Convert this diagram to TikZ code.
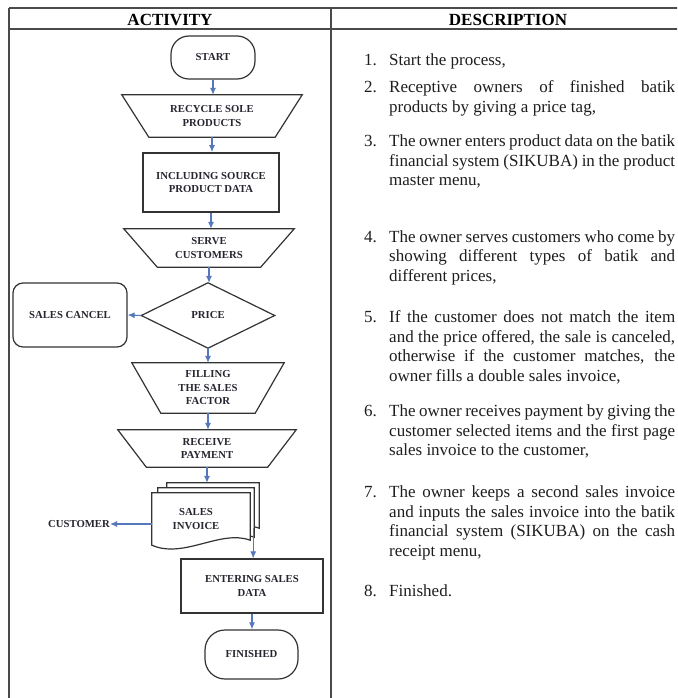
\documentclass[tikz,border=0pt]{standalone}
\usepackage{fontspec}
\setmainfont{Liberation Serif}
\usetikzlibrary{arrows.meta}

\definecolor{rulegray}{HTML}{4A4A4A}
\definecolor{boxline}{HTML}{333333}
\definecolor{flowblue}{HTML}{5577BB}
\definecolor{ink}{HTML}{262630}
\definecolor{bodyink}{HTML}{1E1E1E}

\newcommand\flowfont{\bfseries\fontsize{10.7}{13.5}\selectfont}
\newcommand\bodyfont{\fontsize{17}{19.7}\selectfont}
% a justified line of the description column, and a last (ragged) line
\newcommand\jline[1]{\hbox to 286pt{\spaceskip=0.25em plus 0.6em minus 0.12em #1}}
\newcommand\eline[1]{\hbox{#1}}

\begin{document}
\begin{tikzpicture}[x=1pt,y=-1pt,
  tablerule/.style={draw=rulegray, line width=1.7pt},
  header/.style={anchor=base, inner sep=0, font=\bfseries\fontsize{17}{20}\selectfont, text=black},
  textonly/.style={inner sep=0, align=center, font=\flowfont, text=ink},
  procbox/.style={textonly, draw=boxline, line width=1.2pt, fill=white},
  termbox/.style={procbox, rounded corners=18pt},
  outline/.style={draw=boxline, line width=1.2pt},
  docshape/.style={draw=boxline, line width=1.2pt, fill=white},
  flowarrow/.style={draw=flowblue, line width=1.1pt, -{Latex[length=7pt,width=6pt]}},
  descline/.style={anchor=base west, inner sep=0, font=\bodyfont, text=bodyink},
]
\useasboundingbox (0,0) rectangle (677,698);
\clip (0,0) rectangle (677,698);
\fill[white] (0,0) rectangle (677,698);

% ---- table frame ----
\draw[tablerule] (9,8) -- (700,8);
\draw[tablerule] (9,29) -- (700,29);
\draw[tablerule] (9,8) -- (9,710);
\draw[tablerule] (331,8) -- (331,710);
\node[header] (hact) at (170,25.5) {ACTIVITY};
\node[header] (hdesc) at (508,25.5) {DESCRIPTION};

% ---- flowchart ----
\node[termbox, minimum width=84pt, minimum height=43pt] (start) at (213,57.5) {START};

\node[textonly, minimum width=180pt, minimum height=42pt] (recycle) at (212,116) {RECYCLE SOLE\\PRODUCTS};
\draw[outline] (recycle.north west) -- (recycle.north east) -- ([xshift=-27pt]recycle.south east) -- ([xshift=27pt]recycle.south west) -- cycle;

\node[procbox, line width=1.8pt, minimum width=136pt, minimum height=59pt] (incl) at (211,182.5) {INCLUDING SOURCE\\PRODUCT DATA};

\node[textonly, minimum width=170pt, minimum height=38pt] (serve) at (209,248) {SERVE\\CUSTOMERS};
\draw[outline] (serve.north west) -- (serve.north east) -- ([xshift=-33.5pt]serve.south east) -- ([xshift=33.5pt]serve.south west) -- cycle;

\node[textonly, minimum width=133pt, minimum height=65pt] (price) at (208,315.5) {PRICE};
\draw[outline] (price.north) -- (price.east) -- (price.south) -- (price.west) -- cycle;

\node[termbox, rounded corners=10pt, minimum width=114pt, minimum height=64pt] (cancel) at (70,315) {SALES CANCEL};

\node[textonly, minimum width=152pt, minimum height=50pt] (fill) at (208,388) {FILLING\\THE SALES\\FACTOR};
\draw[outline] (fill.north west) -- (fill.north east) -- ([xshift=-29pt]fill.south east) -- ([xshift=29pt]fill.south west) -- cycle;

\node[textonly, minimum width=178pt, minimum height=37pt] (receive) at (207,448.5) {RECEIVE\\PAYMENT};
\draw[outline] (receive.north west) -- (receive.north east) -- ([xshift=-28.5pt]receive.south east) -- ([xshift=28.5pt]receive.south west) -- cycle;

% stacked sales invoices
\node[textonly, minimum width=92pt, minimum height=50pt] (invback) at (213,508) {};
\node[textonly, minimum width=96pt, minimum height=54pt] (invmid) at (206,515) {};
\node[textonly, minimum width=98pt, minimum height=52pt] (invoice) at (201,519) {};
\foreach \d in {invback,invmid,invoice}{
  \draw[docshape] (\d.north west) -- (\d.north east) -- ([yshift=5pt]\d.south east)
    .. controls ([xshift=-30pt,yshift=16pt]\d.south east) and ([xshift=32pt,yshift=-14pt]\d.south west) .. (\d.south west) -- cycle;
}
\node[textonly] (invtext) at ([xshift=-5pt]invoice.center) {SALES\\INVOICE};
\coordinate (invout) at ([xshift=-6pt,yshift=5pt]invback.south east);

\node[textonly] (customer) at (79,524) {CUSTOMER};

\node[procbox, minimum width=142pt, minimum height=54pt] (entering) at (252,586) {ENTERING SALES\\DATA};

\node[termbox, rounded corners=20pt, minimum width=93pt, minimum height=49pt] (finished) at (251.5,654.5) {FINISHED};

% ---- connectors ----
\draw[flowarrow] (start.south) -- (start.south |- recycle.north);
\draw[flowarrow] (recycle.south) -- (recycle.south |- incl.north);
\draw[flowarrow] (incl.south) -- (incl.south |- serve.north);
\draw[flowarrow] (serve.south) -- (serve.south |- price.north);
\draw[flowarrow] (price.west) -- (cancel.east);
\draw[flowarrow] (price.south) -- (price.south |- fill.north);
\draw[flowarrow] (fill.south) -- (fill.south |- receive.north);
\draw[flowarrow] (receive.south) -- (receive.south |- invback.north);
\draw[flowarrow] (invoice.west |- customer.east) -- (customer.east);
\draw[flowarrow] (invout) -- (invout |- entering.north);
\draw[flowarrow] (entering.south) -- (entering.south |- finished.north);

% ---- description column ----
\node[descline] (n1) at (364,66) {1.};
\node[descline] (d1) at (389,66) {\vtop{\eline{Start the process,}}};

\node[descline] (n2) at (364,93) {2.};
\node[descline] (d2) at (389,93) {\vtop{\jline{Receptive owners of finished batik}\eline{products by giving a price tag,}}};

\node[descline] (n3) at (364,146.5) {3.};
\node[descline] (d3) at (389,146.5) {\vtop{\jline{The owner enters product data on the batik}\jline{financial system (SIKUBA) in the product}\eline{master menu,}}};

\node[descline] (n4) at (364,242) {4.};
\node[descline] (d4) at (389,242) {\vtop{\jline{The owner serves customers who come by}\jline{showing different types of batik and}\eline{different prices,}}};

\node[descline] (n5) at (364,322.5) {5.};
\node[descline] (d5) at (389,322.5) {\vtop{\jline{If the customer does not match the item}\jline{and the price offered, the sale is canceled,}\jline{otherwise if the customer matches, the}\eline{owner fills a double sales invoice,}}};

\node[descline] (n6) at (364,416.5) {6.};
\node[descline] (d6) at (389,416.5) {\vtop{\jline{The owner receives payment by giving the}\jline{customer selected items and the first page}\eline{sales invoice to the customer,}}};

\node[descline] (n7) at (364,497.5) {7.};
\node[descline] (d7) at (389,497.5) {\vtop{\jline{The owner keeps a second sales invoice}\jline{and inputs the sales invoice into the batik}\jline{financial system (SIKUBA) on the cash}\eline{receipt menu,}}};

\node[descline] (n8) at (364,596.5) {8.};
\node[descline] (d8) at (389,596.5) {\vtop{\eline{Finished.}}};
\end{tikzpicture}
\end{document}
